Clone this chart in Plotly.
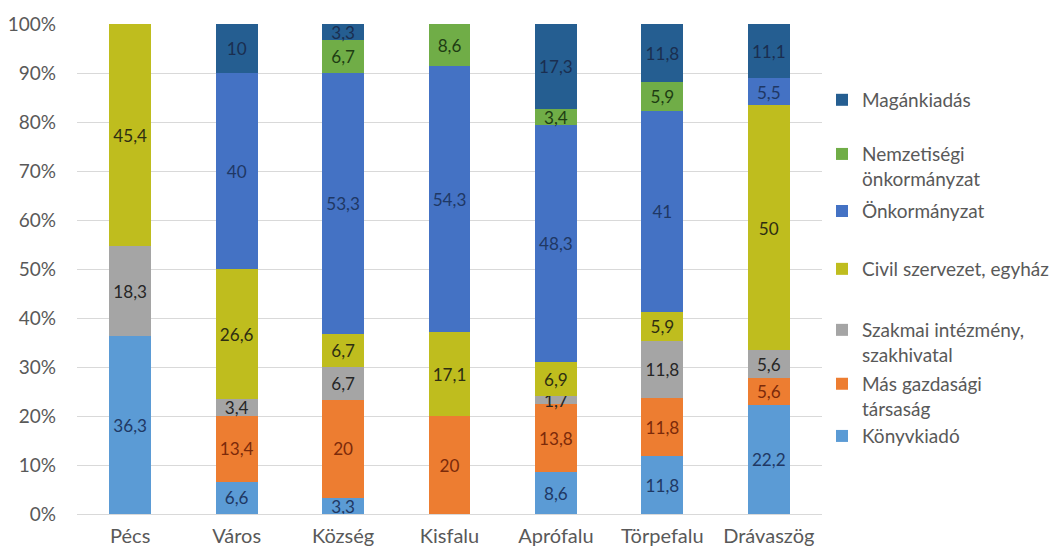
import plotly.graph_objects as go

categories = ["Pécs", "Város", "Község", "Kisfalu", "Aprófalu", "Törpefalu", "Drávaszög"]

series_names = [
    "Könyvkiadó",
    "Más gazdasági<br>társaság",
    "Szakmai intézmény,<br>szakhivatal",
    "Civil szervezet, egyház",
    "Önkormányzat",
    "Nemzetiségi<br>önkormányzat",
    "Magánkiadás",
]

konyvkiado = [36.3, 6.6, 3.3, 0, 8.6, 11.8, 22.2]
mas_gazdasagi = [0, 13.4, 20, 20, 13.8, 11.8, 5.6]
szakmai = [18.3, 3.4, 6.7, 0, 1.7, 11.8, 5.6]
civil = [45.4, 26.6, 6.7, 17.1, 6.9, 5.9, 50]
onkormanyzat = [0, 40, 53.3, 54.3, 48.3, 41, 5.5]
nemzetisegi = [0, 0, 6.7, 8.6, 3.4, 5.9, 0]
magankiadas = [0, 10, 3.3, 0, 17.3, 11.8, 11.1]

y_ticks = [0, 10, 20, 30, 40, 50, 60, 70, 80, 90, 100]
y_tick_labels = ["0%", "10%", "20%", "30%", "40%", "50%", "60%", "70%", "80%", "90%", "100%"]

series_values = [konyvkiado, mas_gazdasagi, szakmai, civil, onkormanyzat, nemzetisegi, magankiadas]
colors = ["#5B9BD5", "#ED7D31", "#A5A5A5", "#BFBD1E", "#4472C4", "#70AD47", "#255E91"]
label_colors = ["#1F3864", "#7B2A0A", "#262626", "#2E2E12", "#1F3864", "#1E3D13", "#1A2E50"]
legend_y = [0.159, 0.24, 0.35, 0.50, 0.618, 0.709, 0.845]

FONT = "Lato"

def fmt(v):
    return ("%g" % v).replace(".", ",")

fig = go.Figure()
for i, (name, vals) in enumerate(zip(series_names, series_values)):
    yv = [v if v > 0 else None for v in vals]
    txt = [fmt(v) if v > 0 else "" for v in vals]
    fig.add_trace(go.Bar(
        x=categories, y=yv, name=name,
        marker=dict(color=colors[i], line=dict(width=0)),
        text=txt, textposition="inside", insidetextanchor="middle",
        textangle=0,
        textfont=dict(color=label_colors[i], size=18, family=FONT),
        legend="legend" if i == 0 else "legend%d" % (i + 1),
        hoverinfo="skip",
    ))

layout_legends = {}
for i in range(7):
    key = "legend" if i == 0 else "legend%d" % (i + 1)
    layout_legends[key] = dict(
        x=1.0, xanchor="left", y=legend_y[i], yanchor="middle",
        bgcolor="rgba(0,0,0,0)", font=dict(family=FONT, size=19, color="#595959"),
        valign="top", itemwidth=30,
    )

fig.update_layout(
    width=1057, height=549,
    barmode="stack", bargap=0.606,
    plot_bgcolor="white", paper_bgcolor="white",
    margin=dict(l=69, r=243, t=16, b=43, autoexpand=False),
    font=dict(family=FONT, color="#595959", size=19),
    uniformtext=dict(minsize=10, mode="show"),
    showlegend=True,
    **layout_legends,
)
fig.update_yaxes(
    range=[0, 100], tickmode="array", tickvals=y_ticks, ticktext=y_tick_labels,
    showgrid=True, gridcolor="#D9D9D9", gridwidth=1,
    zeroline=True, zerolinecolor="#D9D9D9", zerolinewidth=1,
    showline=False, ticks="", ticklabelstandoff=20, automargin=False,
    tickfont=dict(family=FONT, size=19, color="#595959"),
)
fig.update_xaxes(
    showgrid=False, showline=False, ticks="", ticklabelstandoff=8, automargin=False,
    tickfont=dict(family=FONT, size=20, color="#595959"),
)

fig.write_html("out.html")
